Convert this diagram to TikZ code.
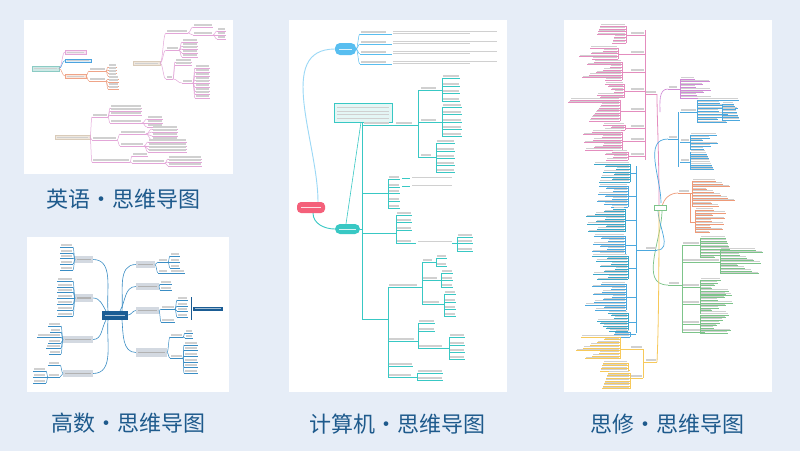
\documentclass[tikz,border=0pt]{standalone}
\usepackage{fontspec}
\newfontfamily\cjk{Noto Sans CJK SC}
\definecolor{bg}{HTML}{E6EDF7}
\definecolor{cap}{HTML}{1E5A8C}
\definecolor{txt}{HTML}{D0D0D0}
\definecolor{pinkL}{HTML}{E3A6D8}
\definecolor{pinkF}{HTML}{F6E4F2}
\definecolor{blueL}{HTML}{4BA3DF}
\definecolor{blueF}{HTML}{DCEDF9}
\definecolor{orgL}{HTML}{EFA488}
\definecolor{orgF}{HTML}{FBE7DE}
\definecolor{tealF}{HTML}{CDE9E6}
\definecolor{tealD}{HTML}{8CCBC4}
\definecolor{beigeF}{HTML}{EFE7DD}
\definecolor{beigeD}{HTML}{D9CBB9}
\definecolor{bl2}{HTML}{3A8DC4}
\definecolor{navy}{HTML}{1A5C94}
\definecolor{grayF}{HTML}{D3D9E1}
\definecolor{redR}{HTML}{F4607A}
\definecolor{blueN}{HTML}{58BEF0}
\definecolor{tealN}{HTML}{38C8C4}
\definecolor{tealF3}{HTML}{E4F6F5}
\definecolor{pk4}{HTML}{E48DBE}
\definecolor{pu4}{HTML}{D08AD6}
\definecolor{bl4}{HTML}{4CA8DE}
\definecolor{or4}{HTML}{EE9A78}
\definecolor{gr4}{HTML}{7DC48A}
\definecolor{ye4}{HTML}{F7C95A}
\definecolor{cy4}{HTML}{3AA6C9}
% leaf: underline from x1 to x2 at y with a text bar above
\newcommand\lf[4]{\draw[#4,line width=.55] (#1,#3) -- (#2,#3);
  \fill[txt] (#1+0.8,#3-2.6) rectangle (#2-0.8,#3-1.5);}
% curved connector
\newcommand\cn[5]{\draw[#5,line width=.5] (#1,#2) .. controls ({(#1+#3)/2},#2) and ({(#1+#3)/2},#4) .. (#3,#4);}
% cluster of leaves: xv, y1, n, dy, dir, colour, seed, minlen, range
\newcommand\cluster[9]{%
  \pgfmathsetmacro\ylast{#2+(#3-1)*#4}%
  \draw[#6,line width=.45] (#1,#2) -- (#1,\ylast);%
  \foreach \i in {1,...,#3}{%
    \pgfmathsetmacro\yy{#2+(\i-1)*#4}%
    \pgfmathsetmacro\cL{#8+mod(\i*37+#7*13,#9)}%
    \draw[#6,line width=.45] (#1,\yy) -- ++({#5*\cL},0);%
    \fill[txt] ({#1+#5*1},\yy-1.8) rectangle ++({#5*(\cL-2)},0.9);%
  }}
\begin{document}
\begin{tikzpicture}[x=1pt,y=-1pt]
\fill[bg] (0,0) rectangle (800,451);
\useasboundingbox (0,0) rectangle (800,451);
% panels
\fill[white] (24,20) rectangle (233,174);
\fill[white] (27,237) rectangle (229,392);
\fill[white] (289,20) rectangle (507,392);
\fill[white] (564,20) rectangle (772,392);

% ================= Panel 1: English =================
\filldraw[fill=tealF,draw=tealD,line width=.4] (32,66) rectangle (59,71);
\fill[txt] (34,68) rectangle (57,69.3);
\cn{59}{68.5}{65}{52}{pinkL}\cn{59}{68.5}{65}{60.5}{blueL}\cn{59}{68.5}{65}{76}{orgL}
\filldraw[fill=pinkF,draw=pinkL,line width=.4] (65,50) rectangle (86,54);
\filldraw[fill=blueF,draw=blueL,line width=.4] (65,59) rectangle (91,62);
\filldraw[fill=orgF,draw=orgL,line width=.4] (65,74) rectangle (86,78);
\fill[txt] (67,51.5) rectangle (84,52.7);
\fill[txt] (67,60) rectangle (89,61.1);
\fill[txt] (67,75.5) rectangle (84,76.7);
\cn{86}{76}{89}{71}{orgL}\lf{89}{106}{71}{orgL}
\cn{86}{76}{89}{81}{orgL}\lf{89}{106}{81}{orgL}
\foreach \y in {67,70,73,76}{\cn{106}{71}{108}{\y}{orgL}\lf{108}{117}{\y}{orgL}}
\foreach \y in {79,82,86,89}{\cn{106}{81}{108}{\y}{orgL}\lf{108}{119}{\y}{orgL}}
% root B
\filldraw[fill=beigeF,draw=beigeD,line width=.4] (133,61) rectangle (160,65);
\fill[txt] (135,62.5) rectangle (158,63.6);
\cn{160}{63}{166}{33}{pinkL}\lf{166}{188}{33}{pinkL}
\cn{160}{63}{166}{50}{pinkL}\lf{166}{179}{50}{pinkL}
\cn{160}{63}{166}{79}{pinkL}\lf{166}{173}{79}{pinkL}
\cn{188}{33}{193}{27}{pinkL}\lf{193}{213}{27}{pinkL}
\cn{188}{33}{193}{35}{pinkL}\lf{193}{213}{35}{pinkL}
\foreach \y in {31,35,39}{\cn{213}{35}{217}{\y}{pinkL}\lf{217}{226}{\y}{pinkL}}
\foreach \y in {42,46,49,53,57}{\cn{179}{50}{182}{\y}{pinkL}\lf{182}{198}{\y}{pinkL}}
\cn{173}{79}{175}{62}{pinkL}\lf{175}{192}{62}{pinkL}
\cn{173}{79}{175}{65}{pinkL}\lf{175}{192}{65}{pinkL}
\cn{173}{79}{182}{83}{pinkL}\lf{182}{193}{83}{pinkL}
\foreach \y in {68,72,76,80,83,87,91,94,98}{\cn{193}{83}{195}{\y}{pinkL}\lf{195}{210}{\y}{pinkL}}
% root C
\filldraw[fill=beigeF,draw=beigeD,line width=.4] (55,135) rectangle (90,139);
\fill[txt] (57,136.5) rectangle (88,137.6);
\cn{90}{137}{92}{117}{pinkL}\lf{92}{108}{117}{pinkL}
\cn{90}{137}{92}{140}{pinkL}\lf{92}{117}{140}{pinkL}
\cn{90}{137}{92}{162}{pinkL}\lf{92}{130}{162}{pinkL}
\foreach \y in {108,111,115,123}{\cn{108}{117}{110}{\y}{pinkL}\lf{110}{142}{\y}{pinkL}}
\foreach \y in {119,123,127}{\cn{142}{123}{147}{\y}{pinkL}\lf{147}{163}{\y}{pinkL}}
\cn{117}{140}{120}{134}{pinkL}\lf{120}{146}{134}{pinkL}
\cn{117}{140}{120}{146}{pinkL}\lf{120}{144}{146}{pinkL}
\foreach \y in {129,132,136,140}{\cn{146}{134}{152}{\y}{pinkL}\lf{152}{178}{\y}{pinkL}}
\foreach \y in {142,146,149,152}{\cn{144}{146}{148}{\y}{pinkL}\lf{148}{187}{\y}{pinkL}}
\cn{130}{162}{132}{156}{pinkL}\lf{132}{148}{156}{pinkL}
\cn{130}{162}{132}{163}{pinkL}\lf{132}{165}{163}{pinkL}
\foreach \y in {159,162,166}{\cn{165}{163}{168}{\y}{pinkL}\lf{168}{202}{\y}{pinkL}}

% ================= Panel 2: Gaoshu =================
\begin{scope}[line width=.6]
\draw[bl2] (108,311) to[out=95,in=0] (93,259.5);
\draw[bl2] (106,311) to[out=120,in=0] (93,298);
\draw[bl2] (106,320) to[out=240,in=0] (93,339.5);
\draw[bl2] (108,320) to[out=265,in=0] (93,373.5);
\draw[bl2] (122,311) to[out=85,in=180] (136,264.5);
\draw[bl2] (120,311) to[out=60,in=180] (136,286.5);
\draw[bl2] (128,315) to[out=0,in=180] (136,310.5);
\draw[bl2] (122,320) to[out=-85,in=180] (136,352.5);
\end{scope}
\fill[navy] (102,311) rectangle (128,320);
\fill[white!65!navy] (105,315) rectangle (125,316.3);
\foreach \a/\b/\c/\d in {75/256/93/263,75/294/93/302,63/336/93/343,63/370/93/377,136/261/155/268,136/283/159/290,136/307/159/314,136/348/167/357}{
  \fill[grayF] (\a,\b) rectangle (\c,\d);
  \fill[gray!60] (\a+2,{(\b+\d)/2-0.6}) rectangle (\c-2,{(\b+\d)/2+0.6});}
\foreach \y in {247,253,258,264,270}{\cn{75}{259.5}{73}{\y}{bl2}\lf{60}{73}{\y}{bl2}}
\foreach \y in {281,287,292,298,304,310,316}{\cn{75}{298}{73}{\y}{bl2}\lf{57}{73}{\y}{bl2}}
\foreach \y/\x in {326/48,332/50,337/37,343/48,348/46,354/49}{\cn{63}{339.5}{61}{\y}{bl2}\lf{\x}{61}{\y}{bl2}}
\cn{63}{373.5}{60}{365}{bl2}\lf{48}{60}{365}{bl2}
\cn{63}{373.5}{60}{377}{bl2}\lf{48}{60}{377}{bl2}
\foreach \y in {371,377,383}{\cn{48}{377}{46}{\y}{bl2}\lf{33}{46}{\y}{bl2}}
\cn{155}{264.5}{158}{262}{bl2}\lf{158}{168}{262}{bl2}
\foreach \y in {256,262,268}{\cn{168}{262}{170}{\y}{bl2}\lf{170}{180}{\y}{bl2}}
\cn{155}{264.5}{158}{273}{bl2}\lf{158}{168}{273}{bl2}
\cn{168}{273}{170}{273}{bl2}\lf{170}{185}{273}{bl2}
\foreach \y in {284,290}{\cn{159}{286.5}{160}{\y}{bl2}\lf{160}{172}{\y}{bl2}}
\cn{159}{310.5}{161}{309}{bl2}\lf{161}{175}{309}{bl2}
\foreach \y in {300,306,311,317}{\cn{175}{309}{177}{\y}{bl2}\lf{177}{188}{\y}{bl2}}
\draw[navy,line width=.6] (191,297) -- (191,320);
\fill[navy] (193,307) rectangle (223,310.5);
\fill[white!60!navy] (195,308.3) rectangle (221,309.2);
\cn{159}{310.5}{161}{322}{bl2}\lf{161}{175}{322}{bl2}
\cn{167}{352.5}{170}{337}{bl2}\lf{170}{183}{337}{bl2}
\foreach \y in {333,338}{\cn{183}{337}{185}{\y}{bl2}\lf{185}{193}{\y}{bl2}}
\cn{167}{352.5}{170}{358}{bl2}\lf{170}{183}{358}{bl2}
\foreach \y in {345,350,356,362,367,373}{\cn{183}{358}{184}{\y}{bl2}\lf{184}{198}{\y}{bl2}}

% ================= Panel 3: Computer =================
\draw[blueN!60,line width=.9] (318,202) to[out=90,in=180] (335,49);
\draw[tealN,line width=.9] (313,213) to[out=-90,in=180] (335,229);
\fill[redR,rounded corners=4] (297,202) rectangle (325,213);
\fill[white!80!redR] (301,207) rectangle (321,208.2);
\fill[blueN,rounded corners=5] (335,43) rectangle (356,55);
\fill[white!80!blueN] (339,48.5) rectangle (352,49.6);
\fill[tealN,rounded corners=5] (335,224) rectangle (360,234);
\fill[white!80!tealN] (339,228.5) rectangle (356,229.6);
\foreach \y in {34,44,54,64}{
  \cn{356}{49}{360}{\y}{blueN}\lf{360}{387}{\y}{blueN}
  \draw[blueN,line width=.8] (387,\y) -- (392,\y);
  \fill[txt] (393,\y-3.4) rectangle (497,\y-2.5);
  \fill[txt] (393,\y-0.6) rectangle (470,\y+0.3);}
% teal part
\draw[tealN,line width=.6] (346,224) -- (361,122);
\draw[tealN,line width=.7] (362,122) -- (362,319);
\draw[tealN,line width=.6] (360,229) -- (362,229);
\filldraw[fill=tealF3,draw=tealN,line width=.6] (334,103) rectangle (392,122);
\foreach \y in {107,110.5,114,117.5}{\fill[txt] (337,\y) rectangle (389,\y+0.9);}
\begin{scope}[line width=.5]
% b1
\lf{363}{390}{125}{tealN}\draw[tealN] (390,125) -- (395,125);\lf{395}{413}{125}{tealN}
\draw[tealN] (413,125) -- (418,125) (418,90) -- (418,157);
\lf{420}{437}{90}{tealN}\lf{420}{437}{122}{tealN}\lf{420}{432}{157}{tealN}
\foreach \y in {90,122,157}{\draw[tealN] (418,\y) -- (420,\y);}
\draw[tealN] (437,90) -- (442,90) (442,78) -- (442,101);
\foreach \y in {78,86,93,101}{\lf{442}{460}{\y}{tealN}}
\draw[tealN] (437,122) -- (442,122) (442,107) -- (442,136);
\foreach \y in {107,114,122,129,136}{\lf{442}{462}{\y}{tealN}}
\draw[tealN] (432,157) -- (436,157) (436,143) -- (436,172);
\foreach \y in {143,151,158,165,172}{\lf{436}{455}{\y}{tealN}}
% b2
\draw[tealN] (362,193) -- (388,193) (388,179) -- (388,208);
\foreach \y in {179,187,193,201,208}{\lf{388}{400}{\y}{tealN}}
\foreach \y in {179,187}{\draw[tealN,line width=.8] (402,\y-1) -- (410,\y-1);\fill[txt] (412,\y-2.5) rectangle (452,\y-1.5);}
% b3
\draw[tealN] (362,233) -- (396,233) (396,215) -- (396,243);
\foreach \y in {215,222,230,243}{\lf{396}{412}{\y}{tealN}}
\draw[tealN,line width=.8] (412,243) -- (416,243);
\fill[txt] (418,241.3) rectangle (452,242.3);
\draw[tealN] (452,243) -- (457,243) (457,237) -- (457,251);
\foreach \y in {237,243,251}{\lf{457}{473}{\y}{tealN}}
% b4
\draw[tealN] (362,319) -- (388,319) (388,287) -- (388,377);
\lf{388}{418}{287}{tealN}
\draw[tealN] (418,287) -- (422,287) (422,262) -- (422,304);
\lf{422}{433}{262}{tealN}\draw[tealN] (433,262) -- (436,262) (436,258) -- (436,266);
\foreach \y in {258,266}{\lf{436}{447}{\y}{tealN}}
\lf{422}{438}{280}{tealN}\draw[tealN] (438,280) -- (441,280) (441,273) -- (441,287);
\foreach \y in {273,280,287}{\lf{441}{453}{\y}{tealN}}
\lf{422}{440}{304}{tealN}\draw[tealN] (440,304) -- (444,304) (444,294) -- (444,316);
\foreach \y in {294,302,309,316}{\lf{444}{456}{\y}{tealN}}
\lf{388}{415}{341}{tealN}
\draw[tealN] (415,341) -- (418,341) (418,323) -- (418,348);
\lf{418}{435}{323}{tealN}\lf{418}{435}{331}{tealN}\lf{418}{443}{348}{tealN}
\draw[tealN] (443,348) -- (449,348) (449,337) -- (449,359);
\foreach \y in {337,345,352,359}{\lf{449}{465}{\y}{tealN}}
\lf{388}{413}{366}{tealN}
\lf{388}{412}{377}{tealN}
\draw[tealN] (412,377) -- (417,377) (417,373) -- (417,380);
\foreach \y in {373,380}{\lf{417}{443}{\y}{tealN}}
\end{scope}

% ================= Panel 4: Sixiu =================
% trunk lines
\draw[pk4,line width=.8] (659,205) .. controls (659,150) and (657,120) .. (657,94);
\draw[pu4,line width=.6] (660,112) to[out=90,in=180] (668,89);
\draw[bl4,line width=.7] (661,203) to[out=90,in=180] (668,139);
\draw[or4,line width=.7] (662,207) to[out=80,in=180] (678,193);
\draw[gr4,line width=.7] (662,210) to[out=-90,in=180] (668,285);
\draw[bl4,line width=.7] (658,210) to[out=-90,in=0] (657,250);
\draw[ye4,line width=.8] (659,210) .. controls (659,300) and (658,340) .. (657,362);
\fill[white] (654,205) rectangle (666,210);
\draw[gr4,line width=.4] (654,205) rectangle (666,210);
% pink top-left
\lf{645}{657}{94}{pk4}
\draw[pk4,line width=.6] (645,30) -- (645,160);
\foreach \ym/\xv in {35/626,54/618,72/622,91/624,111/620,128/625,141/622,156/628}{
  \lf{630}{645}{\ym}{pk4}\draw[pk4,line width=.45] (630,\ym) -- (\xv,\ym);}
\cluster{626}{26}{7}{2.8}{-1}{pk4}{1}{12}{18}
\cluster{618}{48}{5}{2.8}{-1}{pk4}{2}{15}{25}
\cluster{622}{62}{8}{2.6}{-1}{pk4}{3}{12}{30}
\cluster{624}{84}{6}{2.7}{-1}{pk4}{4}{10}{20}
\cluster{620}{100}{9}{2.6}{-1}{pk4}{5}{18}{35}
\cluster{625}{125}{3}{2.5}{-1}{pk4}{6}{12}{15}
\cluster{622}{132}{8}{2.6}{-1}{pk4}{7}{14}{28}
\cluster{628}{152}{4}{2.6}{-1}{pk4}{8}{10}{15}
% purple top-right
\lf{668}{678}{89}{pu4}
\draw[pu4,line width=.45] (678,89) -- (680,89);
\cluster{680}{79}{8}{2.7}{1}{pu4}{9}{15}{22}
% blue right
\lf{668}{678}{139}{bl4}
\draw[bl4,line width=.55] (678,112) -- (678,167);
\foreach \ym/\xv in {112/697,142/690,162/690}{\lf{680}{\xv}{\ym}{bl4}}
\cluster{697}{100}{9}{2.8}{1}{bl4}{10}{15}{28}
\cluster{722}{104}{7}{2.7}{1}{bl4}{11}{12}{18}
\cluster{690}{135}{6}{2.8}{1}{bl4}{12}{10}{22}
\cluster{690}{152}{9}{2.2}{1}{bl4}{13}{8}{18}
% orange right
\lf{678}{690}{193}{or4}
\draw[or4,line width=.5] (690,193) -- (692,193);
\cluster{692}{181}{10}{2.8}{1}{or4}{14}{15}{30}
\draw[or4,line width=.5] (690,193) -- (690,222) -- (695,222);
\cluster{695}{210}{9}{2.8}{1}{or4}{15}{12}{25}
% green right
\lf{668}{680}{285}{gr4}
\draw[gr4,line width=.55] (682,245) -- (682,332);
\draw[gr4,line width=.45] (680,285) -- (682,285);
\foreach \ym/\xv in {245/700,262/720,287/700,304/700,324/700,332/705}{\lf{682}{\xv}{\ym}{gr4}}
\cluster{700}{238}{8}{2.8}{1}{gr4}{16}{15}{18}
\cluster{720}{250}{10}{2.6}{1}{gr4}{17}{18}{30}
\cluster{700}{280}{6}{2.8}{1}{gr4}{18}{10}{20}
\cluster{700}{295}{8}{2.6}{1}{gr4}{19}{12}{22}
\cluster{700}{315}{8}{2.6}{1}{gr4}{20}{12}{20}
% blue left
\lf{645}{657}{250}{bl4}
\draw[bl4,line width=.55] (636,166) -- (636,333);
\draw[bl4,line width=.45] (636,250) -- (645,250);
\cluster{630}{164}{8}{2.6}{-1}{cy4}{21}{14}{24}
\cluster{628}{186}{9}{2.6}{-1}{bl4}{22}{14}{22}
\cluster{625}{209}{10}{2.5}{-1}{cy4}{23}{12}{28}
\cluster{625}{236}{8}{2.6}{-1}{bl4}{24}{12}{22}
\cluster{628}{256}{10}{2.6}{-1}{cy4}{25}{12}{26}
\cluster{626}{284}{11}{2.6}{-1}{bl4}{26}{14}{28}
\cluster{628}{313}{8}{2.6}{-1}{cy4}{27}{12}{20}
\cluster{630}{332}{3}{2.6}{-1}{bl4}{28}{10}{12}
\foreach \ym/\xv in {173/630,196/628,220/625,245/625,268/628,297/626,322/628,334/630}{\draw[bl4,line width=.45] (636,\ym) -- (\xv,\ym);}
% yellow bottom-left
\lf{645}{657}{362}{ye4}
\draw[ye4,line width=.55] (643,349) -- (643,378);
\draw[ye4,line width=.45] (643,362) -- (645,362);
\lf{630}{643}{349}{ye4}\lf{630}{643}{378}{ye4}
\draw[ye4,line width=.45] (630,349) -- (620,349) (630,370) -- (628,370) (630,378) -- (630,378);
\cluster{620}{337}{9}{2.7}{-1}{ye4}{29}{15}{30}
\cluster{628}{363}{4}{2.7}{-1}{ye4}{30}{12}{18}
\cluster{630}{373}{7}{2.6}{-1}{ye4}{31}{14}{18}

% ================= Captions =================
\begin{scope}[every node/.style={font=\cjk\fontsize{22}{22}\selectfont,text=cap,inner sep=0pt}]
\node (c1) at (123,199) {英语・思维导图};
\node (c2) at (128,423) {高数・思维导图};
\node (c3) at (397,424) {计算机・思维导图};
\node (c4) at (667,424) {思修・思维导图};
\end{scope}
\end{tikzpicture}
\end{document}
